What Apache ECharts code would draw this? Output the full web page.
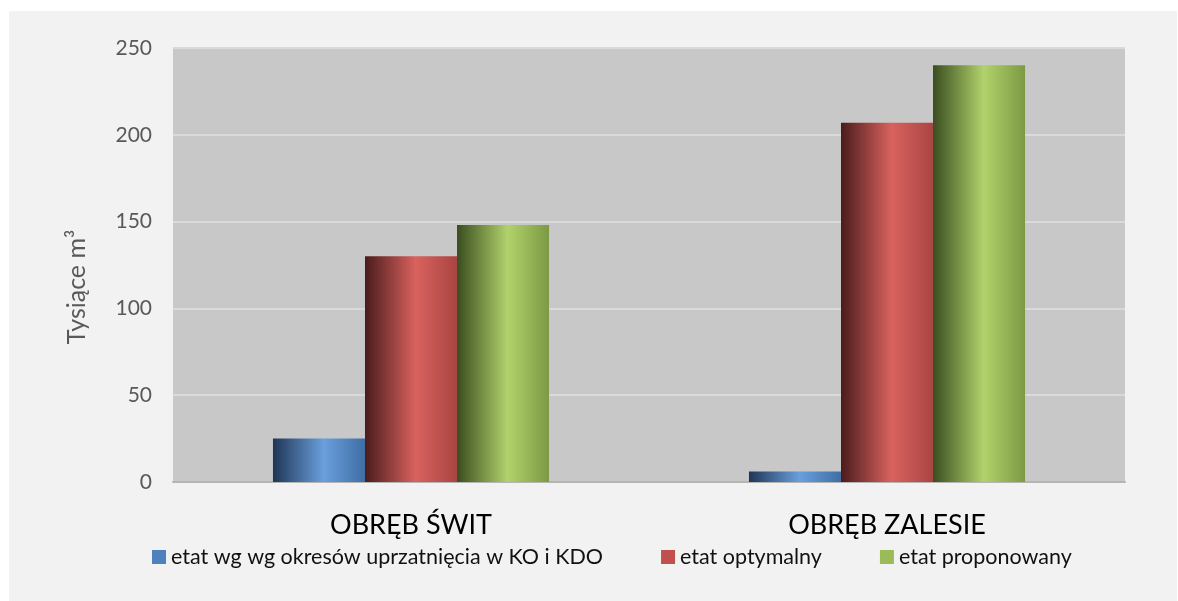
<!DOCTYPE html>
<html>
<head>
<meta charset="utf-8">
<script src="https://cdn.jsdelivr.net/npm/echarts@6/dist/echarts.min.js"></script>
<style>
  html, body { margin: 0; padding: 0; background: #fff; }
  #wrap { position: relative; width: 1178px; height: 601px; }
  #panel { position: absolute; left: 9px; top: 11px; right: 1px; bottom: 0; background: #f2f2f2; }
  #chart { position: absolute; left: 0; top: 0; width: 1178px; height: 601px; }
</style>
</head>
<body>
<div id="wrap">
  <div id="panel"></div>
  <div id="chart"></div>
</div>
<script>
  // dane (tys. m3)
  var categories = ['OBRĘB ŚWIT', 'OBRĘB ZALESIE'];
  var seriesNames = ['etat wg wg okresów uprzatnięcia w KO i KDO', 'etat optymalny', 'etat proponowany'];
  var etatKO = [25, 6];
  var etatOptymalny = [130, 207];
  var etatProponowany = [148, 240];
  var yTicks = [0, 50, 100, 150, 200, 250];

  var font = 'Lato, "Open Sans", sans-serif';

  // kolory "walca": ciemna krawędź, jasny środek, ciemniejsza prawa strona
  function cylinder(dark, light, edge) {
    return new echarts.graphic.LinearGradient(0, 0, 1, 0, [
      { offset: 0, color: dark },
      { offset: 0.55, color: light },
      { offset: 1, color: edge }
    ]);
  }

  var styles = [
    { flat: '#4f81bd', fill: cylinder('#1f3656', '#6a9fdc', '#3f6ea6') },
    { flat: '#c0504d', fill: cylinder('#4a1c1c', '#d9625e', '#a94542') },
    { flat: '#9bbb59', fill: cylinder('#3a4d20', '#b1d26b', '#7c9a44') }
  ];
  var values = [etatKO, etatOptymalny, etatProponowany];

  var series = seriesNames.map(function (name, i) {
    return {
      name: name,
      type: 'bar',
      data: values[i],
      barGap: '0%',
      barCategoryGap: '42%',
      itemStyle: { color: styles[i].fill },
      emphasis: { disabled: true }
    };
  });

  var chart = echarts.init(document.getElementById('chart'));
  chart.setOption({
    backgroundColor: 'transparent',
    animation: false,
    color: styles.map(function (s) { return s.flat; }),
    grid: {
      left: 173, right: 53, top: 48, bottom: 119,
      show: true, backgroundColor: '#c8c8c8', borderWidth: 0
    },
    legend: {
      left: 147, top: 541,
      itemWidth: 14, itemHeight: 14, itemGap: 58,
      icon: 'rect',
      textStyle: { fontFamily: font, fontSize: 21.5, color: '#111' },
      data: seriesNames.map(function (n, i) {
        return { name: n, itemStyle: { color: styles[i].flat } };
      })
    },
    xAxis: {
      type: 'category',
      data: categories,
      axisLine: { lineStyle: { color: '#b5b5b5', width: 2 } },
      axisTick: { show: false },
      axisLabel: { color: '#000', fontFamily: font, fontSize: 27, margin: 30 }
    },
    yAxis: {
      type: 'value',
      min: yTicks[0], max: yTicks[yTicks.length - 1], interval: 50,
      name: 'Tysiące m³',
      nameLocation: 'middle', nameGap: 84, nameRotate: 90,
      nameTextStyle: { color: '#595959', fontFamily: font, fontSize: 25, padding: [0, 44, 0, 0] },
      axisLine: { show: false },
      axisTick: { show: false },
      axisLabel: { color: '#595959', fontFamily: font, fontSize: 21, margin: 21 },
      splitLine: { lineStyle: { color: '#dadada', width: 2 } }
    },
    series: series
  });
</script>
</body>
</html>
